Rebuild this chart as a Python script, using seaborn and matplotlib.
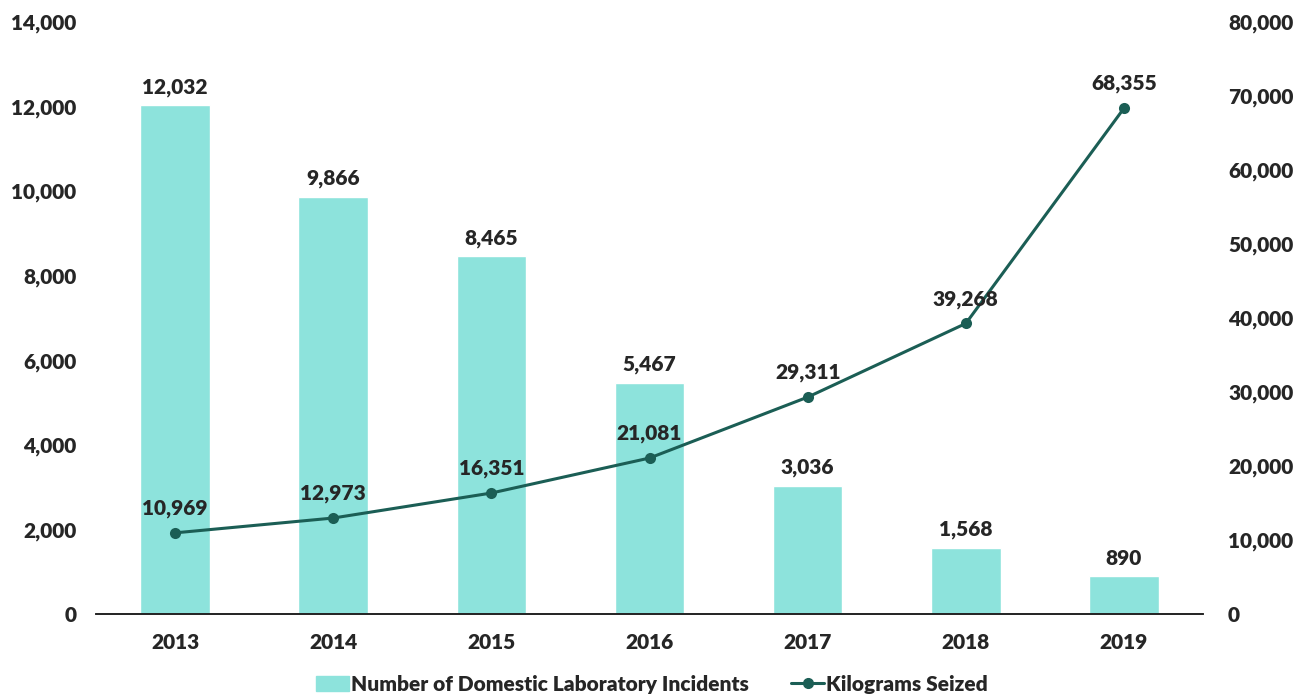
import seaborn as sns
import matplotlib.pyplot as plt
import pandas as pd
from matplotlib.ticker import FuncFormatter
from matplotlib.patches import Patch
from matplotlib.lines import Line2D

years = ["2013", "2014", "2015", "2016", "2017", "2018", "2019"]
incidents = [12032, 9866, 8465, 5467, 3036, 1568, 890]
kilograms = [10969, 12973, 16351, 21081, 29311, 39268, 68355]

bar_color = "#8DE3DC"
line_color = "#1B5E55"

sns.set_style("white")
plt.rcParams['font.family'] = ['Lato', 'DejaVu Sans']
plt.rcParams['font.weight'] = 'bold'

df = pd.DataFrame({"year": years, "incidents": incidents, "kg": kilograms})

fig = plt.figure(figsize=(13.04, 6.95), dpi=100)
ax = fig.add_axes([0.0736, 0.1165, 0.849, 0.8518])

sns.barplot(data=df, x="year", y="incidents", color=bar_color, width=0.44,
            saturation=1, ax=ax)
ax.set_ylim(0, 14000)
ax.set_yticks(range(0, 14001, 2000))
fmt = FuncFormatter(lambda v, p: f"{int(v):,}")
ax.yaxis.set_major_formatter(fmt)
for i, v in enumerate(incidents):
    ax.text(i, v + 200, f"{v:,}", ha="center", va="bottom", fontsize=15, fontweight="heavy")

ax2 = ax.twinx()
sns.lineplot(x=list(range(len(years))), y=kilograms, color=line_color, marker="o",
             markersize=8, linewidth=2.2, markeredgewidth=0, ax=ax2)
ax2.set_ylim(0, 80000)
ax2.set_yticks(range(0, 80001, 10000))
ax2.yaxis.set_major_formatter(fmt)
for i, v in enumerate(kilograms):
    ax2.text(i, v + 2000, f"{v:,}", ha="center", va="bottom", fontsize=15, fontweight="heavy")

for a in (ax, ax2):
    for s in ["top", "left", "right"]:
        a.spines[s].set_visible(False)
    a.spines["bottom"].set_color("#222222")
    a.spines["bottom"].set_linewidth(1.2)
    a.tick_params(axis="both", length=0, labelsize=15, pad=10)
    a.set_xlabel("")
    a.set_ylabel("")
    for t in a.get_yticklabels() + a.get_xticklabels():
        t.set_fontweight("heavy")

ax.tick_params(axis="x", pad=14)
ax.tick_params(axis="y", pad=14)
ax2.tick_params(axis="y", pad=18)
ax.set_xlim(-0.5, len(years) - 0.5)

handles = [Patch(color=bar_color, label="Number of Domestic Laboratory Incidents"),
           Line2D([0], [0], color=line_color, marker="o", markersize=7, linewidth=2.2,
                  label="Kilograms Seized")]
leg = fig.legend(handles=handles, loc="lower center", bbox_to_anchor=(0.5, -0.025), ncol=2,
                 frameon=False, handlelength=1.6, handletextpad=0.1,
                 columnspacing=2.0, prop={"weight": "heavy", "size": 15})

fig.savefig("out.png", dpi=100)
